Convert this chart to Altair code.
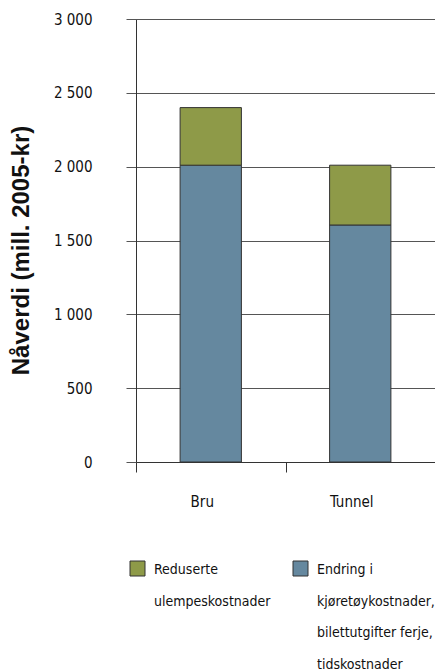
import altair as alt
import pandas as pd

categories = ["Bru", "Tunnel"]
series_names = ["Endring i kjøretøykostnader, bilettutgifter ferje, tidskostnader",
                "Reduserte ulempeskostnader"]
blue_values = [2010, 1605]
green_values = [390, 405]
y_ticks = [0, 500, 1000, 1500, 2000, 2500, 3000]
legend_labels = ["Reduserte\nulempeskostnader",
                 "Endring i\nkjøretøykostnader,\nbilettutgifter ferje,\ntidskostnader"]

colors = {"blue": "#65889f", "green": "#8e9a48"}
FONT = "DejaVu Sans Condensed, sans-serif"

rows = []
for c, b, g in zip(categories, blue_values, green_values):
    rows.append({"cat": c, "series": series_names[0], "lo": 0, "hi": b, "order": 0})
    rows.append({"cat": c, "series": series_names[1], "lo": b, "hi": b + g, "order": 1})
df = pd.DataFrame(rows)

W, H = 299, 443

bars = alt.Chart(df).mark_bar(
    width=alt.RelativeBandSize(0.41), stroke="#333333", strokeWidth=1
).encode(
    x=alt.X("cat:N", sort=categories, title=None,
            scale=alt.Scale(paddingInner=0, paddingOuter=0),
            axis=alt.Axis(tickBand="extent", labelAngle=0, tickSize=10,
                          labelPadding=22, labelFont=FONT, labelFontSize=15,
                          labelColor="#111111", domainColor="#333333",
                          tickColor="#333333", labelOffset=-9)),
    y=alt.Y("lo:Q", title="Nåverdi (mill. 2005-kr)",
            scale=alt.Scale(domain=[0, 3000], nice=False),
            axis=alt.Axis(values=y_ticks, tickSize=10, labelPadding=34,
                          labelFont=FONT, labelFontSize=15, labelColor="#111111",
                          labelExpr="replace(format(datum.value, ','), ',', ' ')",
                          grid=True, gridColor="#555555", domainColor="#333333",
                          tickColor="#555555",
                          titleFont="Liberation Sans", titleFontSize=24,
                          titleFontWeight="bold", titleColor="#111111",
                          titleX=-115, titleY=231, titleAngle=270,
                          titleAlign="center", titleBaseline="middle")),
    y2="hi:Q",
    color=alt.Color("series:N", legend=None,
                    scale=alt.Scale(domain=series_names,
                                    range=[colors["blue"], colors["green"]])),
)

layers = [bars]
leg_colors = [colors["green"], colors["blue"]]
sym_x = [1.5, 164.5]
txt_x = [18, 181]
for i, lab in enumerate(legend_labels):
    ldf = pd.DataFrame({"label": [lab]})
    layers.append(alt.Chart(ldf).mark_square(
        size=225, color=leg_colors[i], stroke="#333333", strokeWidth=1, opacity=1
    ).encode(x=alt.value(sym_x[i]), y=alt.value(549.5)))
    layers.append(alt.Chart(ldf).mark_text(
        align="left", baseline="middle", lineBreak="\n", lineHeight=31.5,
        font=FONT, fontSize=14, color="#111111"
    ).encode(x=alt.value(txt_x[i]), y=alt.value(551), text="label:N"))

chart = alt.layer(*layers).properties(
    width=W, height=H,
    autosize=alt.AutoSizeParams(type="none"),
    padding={"left": 136, "top": 19, "right": 0, "bottom": 210},
).configure_view(stroke=None).configure(background="white")

chart.save("out.html", embed_options={"renderer": "svg", "actions": False})
